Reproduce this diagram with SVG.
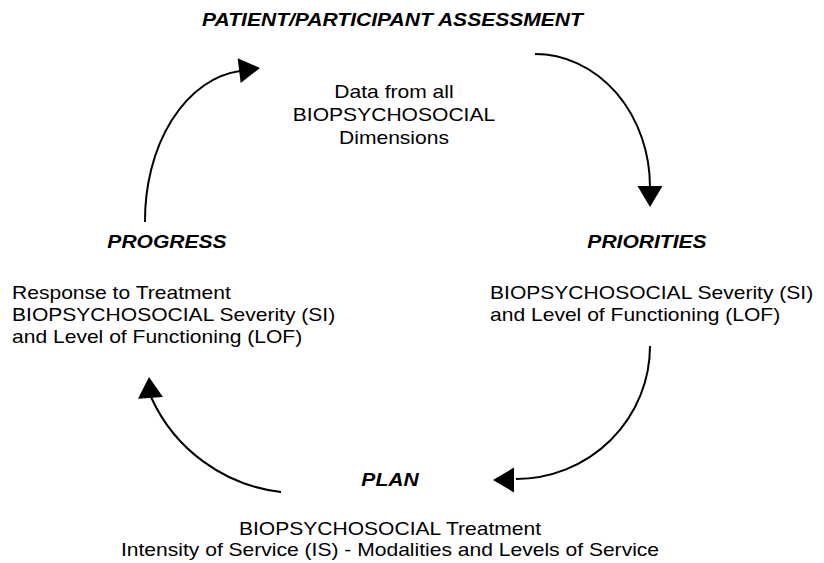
<svg xmlns="http://www.w3.org/2000/svg" xmlns:xlink="http://www.w3.org/1999/xlink" width="824" height="563" viewBox="0 0 824 563">
  <style>
    text { font-family: "Liberation Sans", Arial, sans-serif; font-size: 18px; fill: #000; }
    .head { font-weight: bold; font-style: italic; }
    .mid { text-anchor: middle; }
    .arc { fill: none; stroke: #000; stroke-width: 2; }
  </style>
  <defs>
    <!-- arrowhead: tip at origin, pointing along +x -->
    <path id="tip" d="M0,0 L-21,-12.5 L-21,12.5 Z" fill="#000"/>
  </defs>
  <rect width="824" height="563" fill="#fff"/>

  <!-- cycle connectors -->
  <g id="connectors">
    <path class="arc" d="M145,222 A105,150 0 0 1 240,71"/>
    <use xlink:href="#tip" transform="translate(260,68) rotate(-7)"/>
    <path class="arc" d="M535,54 A115,133 0 0 1 650,187"/>
    <use xlink:href="#tip" transform="translate(650,207) rotate(90)"/>
    <path class="arc" d="M650,346 A134,133 0 0 1 516,479"/>
    <use xlink:href="#tip" transform="translate(493,480) rotate(180)"/>
    <path class="arc" d="M281,492 A163,163 0 0 1 151,397"/>
    <use xlink:href="#tip" transform="translate(149,377) rotate(-94)"/>
  </g>

  <!-- texts are drawn 17% wider than the font's natural width -->
  <g id="assessment">
    <text class="head mid" transform="translate(392.5,26) scale(1.17,1)">PATIENT/PARTICIPANT ASSESSMENT</text>
    <text class="mid" transform="translate(394,98) scale(1.17,1)">Data from all</text>
    <text class="mid" transform="translate(394,121) scale(1.17,1)">BIOPSYCHOSOCIAL</text>
    <text class="mid" transform="translate(394,144) scale(1.17,1)">Dimensions</text>
  </g>

  <g id="priorities">
    <text class="head mid" transform="translate(647,248) scale(1.17,1)">PRIORITIES</text>
    <text transform="translate(490,299) scale(1.17,1)">BIOPSYCHOSOCIAL Severity (SI)</text>
    <text transform="translate(490,321) scale(1.17,1)">and Level of Functioning (LOF)</text>
  </g>

  <g id="plan">
    <text class="head mid" transform="translate(390,486) scale(1.17,1)">PLAN</text>
    <text class="mid" transform="translate(390,535) scale(1.17,1)">BIOPSYCHOSOCIAL Treatment</text>
    <text class="mid" transform="translate(390,556) scale(1.17,1)">Intensity of Service (IS) - Modalities and Levels of Service</text>
  </g>

  <g id="progress">
    <text class="head mid" transform="translate(167,248) scale(1.17,1)">PROGRESS</text>
    <text transform="translate(12,299) scale(1.17,1)">Response to Treatment</text>
    <text transform="translate(12,321) scale(1.17,1)">BIOPSYCHOSOCIAL Severity (SI)</text>
    <text transform="translate(12,343) scale(1.17,1)">and Level of Functioning (LOF)</text>
  </g>
</svg>
